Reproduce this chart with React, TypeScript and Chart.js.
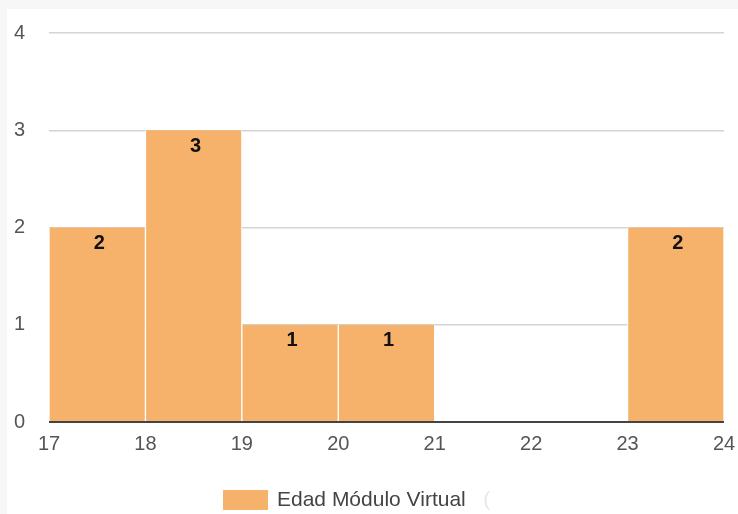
import React, { useEffect, useRef } from "react";
import { Chart, registerables } from "chart.js";

Chart.register(...registerables);

const binStarts = [17, 18, 19, 20, 21, 22, 23];
const counts = [2, 3, 1, 1, 0, 0, 2];
const seriesLabel = "Edad Módulo Virtual";
const barColor = "#f6b26b";

const FONT = "'Liberation Sans', Arial, sans-serif";

const overlayPlugin = {
  id: "overlay",
  afterDatasetsDraw(chart: any) {
    const { ctx, chartArea } = chart;
    const yScale = chart.scales.y;
    const y0 = yScale.getPixelForValue(0);
    ctx.save();
    // baseline
    ctx.strokeStyle = "#444";
    ctx.lineWidth = 2;
    ctx.beginPath();
    ctx.moveTo(chartArea.left, y0);
    ctx.lineTo(chartArea.right, y0);
    ctx.stroke();
    // data labels
    const meta = chart.getDatasetMeta(0);
    ctx.font = `bold 20px ${FONT}`;
    ctx.fillStyle = "#111";
    ctx.textAlign = "center";
    ctx.textBaseline = "middle";
    meta.data.forEach((el: any, i: number) => {
      const v = counts[i];
      if (!v) return;
      ctx.fillText(String(v), el.x + 2, el.y + 16);
    });
    // legend
    const bx = 216;
    const by = 481;
    ctx.fillStyle = barColor;
    ctx.fillRect(bx, by, 45, 20);
    ctx.font = `21px ${FONT}`;
    ctx.fillStyle = "#444";
    ctx.textAlign = "left";
    ctx.fillText(seriesLabel, bx + 54, by + 10);
    const w = ctx.measureText(seriesLabel + "   ").width;
    ctx.fillStyle = "#e8e8e8";
    ctx.fillText("(", bx + 54 + w, by + 10);
    ctx.restore();
  },
};

export default function App() {
  const ref = useRef<HTMLCanvasElement>(null);
  useEffect(() => {
    document.body.style.margin = "0";
    const chart = new Chart(ref.current!, {
      type: "bar",
      data: {
        datasets: [
          {
            label: seriesLabel,
            data: binStarts.map((s, i) => ({ x: s + 0.5, y: counts[i] })),
            backgroundColor: barColor,
            borderColor: "#ffffff",
            borderWidth: { left: 1, right: 1, top: 0, bottom: 0 } as any,
            borderSkipped: false,
            barPercentage: 1,
            categoryPercentage: 1,
          },
        ],
      },
      options: {
        animation: false,
        responsive: false,
        maintainAspectRatio: false,
        layout: { padding: { left: 0, right: 14, top: 24, bottom: 52 } },
        plugins: {
          legend: { display: false },
          tooltip: { enabled: false },
        },
        scales: {
          x: {
            type: "linear",
            min: 17,
            max: 24,
            offset: false,
            grid: { display: false, drawTicks: false },
            border: { display: false },
            ticks: {
              stepSize: 1,
              padding: 10,
              color: "#555",
              font: { family: FONT, size: 20 },
              maxRotation: 0,
              autoSkip: false,
            },
            afterFit(scale: any) {
              scale.height = 40;
              scale.paddingLeft = 0;
              scale.paddingRight = 0;
            },
          },
          y: {
            min: 0,
            max: 4,
            grid: { color: "#d4d4d4", lineWidth: 1.5, drawTicks: false },
            border: { display: false },
            ticks: {
              stepSize: 1,
              padding: 24,
              color: "#555",
              font: { family: FONT, size: 20 },
            },
            afterFit(scale: any) {
              scale.width = 42;
              scale.paddingTop = 0;
              scale.paddingBottom = 0;
            },
          },
        },
      },
      plugins: [overlayPlugin],
    });
    return () => chart.destroy();
  }, []);

  return (
    <div style={{ position: "relative", width: 738, height: 514, background: "#f7f7f7" }}>
      <div
        style={{
          position: "absolute",
          left: 7,
          top: 9,
          width: 731,
          height: 505,
          background: "#ffffff",
        }}
      >
        <canvas ref={ref} width={731} height={505} style={{ display: "block" }} />
      </div>
    </div>
  );
}
